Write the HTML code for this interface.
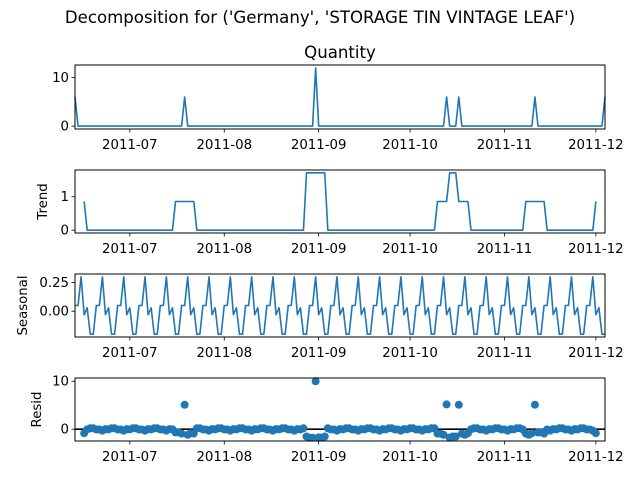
<!DOCTYPE html>
<html><head><meta charset="utf-8"><style>
body{margin:0;background:#fff;}
svg{display:block;font-family:"DejaVu Sans","Liberation Sans",sans-serif;}
</style></head><body>
<svg id="fig" width="640" height="480" viewBox="0 0 640 480">
<text x="320" y="23" text-anchor="middle" font-size="16.6">Decomposition for ('Germany', 'STORAGE TIN VINTAGE LEAF')</text>
<text x="340" y="58" text-anchor="middle" font-size="16.6">Quantity</text>
</svg>
<script>
// Day index 0 = 2011-06-13, 175 daily points to 2011-12-04
const nDays = 175;
const spikeDays = [0, 36, 79, 122, 126, 151, 174];
const spikeValues = [6, 6, 12, 6, 6, 6, 6];
const seasonalPattern = [0.05, 0.05, 0.30, -0.03, 0.03, -0.20, -0.20];
const monthLabels = ['2011-07','2011-08','2011-09','2011-10','2011-11','2011-12'];
const monthTickDays = [18, 49, 80, 110, 141, 171];

const svg = document.getElementById('fig');
const NS = 'http://www.w3.org/2000/svg';
function mk(tag, attrs){const e=document.createElementNS(NS,tag);for(const k in attrs)e.setAttribute(k,attrs[k]);return e;}

const observed = new Array(nDays).fill(0);
spikeDays.forEach((d,i)=>observed[d]=spikeValues[i]);
const trend = observed.map((v,i)=>{ if(i<3||i>nDays-4) return null; let s=0; for(let k=-3;k<=3;k++) s+=observed[i+k]; return s/7; });
const seasonal = observed.map((v,i)=>seasonalPattern[i%7]);
const resid = observed.map((v,i)=>trend[i]===null?null:v-trend[i]-seasonal[i]);

const X0=75, X1=605;
const xs = d => X0 + d*(X1-X0)/(nDays-1);

const panels = [
 {name:'observed', data:observed, top:65, bot:129, ticks:[0,10], fmt:v=>String(v), label:null, lx:0, kind:'line'},
 {name:'trend', data:trend, top:170, bot:233, ticks:[0,1], fmt:v=>String(v), label:'Trend', lx:47, kind:'line'},
 {name:'seasonal', data:seasonal, top:274, bot:337, ticks:[0,0.25], fmt:v=>v.toFixed(2), label:'Seasonal', lx:27, kind:'line'},
 {name:'resid', data:resid, top:378, bot:441, ticks:[0,10], fmt:v=>String(v), label:'Resid', lx:41, kind:'scatter'}
];

panels.forEach(p=>{
  const vals = p.data.filter(v=>v!==null);
  let mn=Math.min(...vals), mx=Math.max(...vals);
  const pad=(mx-mn)*0.05; mn-=pad; mx+=pad;
  if(p.kind==='scatter'){mn-=0.1; mx+=0.1;}
  const ys = v => p.bot - (v-mn)/(mx-mn)*(p.bot-p.top);
  const g = mk('g',{});
  
  
  svg.appendChild(g);
  if(p.kind==='line'){
    let d='', pen=false;
    p.data.forEach((v,i)=>{ if(v===null){pen=false;return;} d+=(pen?'L':'M')+xs(i).toFixed(2)+' '+ys(v).toFixed(2); pen=true; });
    const path = mk('path',{d:d,fill:'none',stroke:'#1f77b4','stroke-width':1.6,'stroke-linejoin':'round'});
    
    
    g.appendChild(path);
  } else {
    const zl = mk('line',{x1:X0,x2:X1,y1:ys(0),y2:ys(0),stroke:'#000','stroke-width':1.6});
    
    
    g.appendChild(zl);
    p.data.forEach((v,i)=>{ if(v===null) return;
      const c = mk('circle',{cx:xs(i),cy:ys(v),r:4,fill:'#1f77b4'});
      
      
      g.appendChild(c);
    });
  }
  const frame = mk('rect',{x:X0,y:p.top,width:X1-X0,height:p.bot-p.top,fill:'none',stroke:'#000','stroke-width':1});
  
  
  g.appendChild(frame);
  p.ticks.forEach(t=>{
    const y=ys(t);
    g.appendChild(mk('line',{x1:X0-3.5,x2:X0,y1:y,y2:y,stroke:'#000','stroke-width':0.8}));
    const tx = mk('text',{x:X0-6,y:y+4.5,'text-anchor':'end','font-size':13.3});
    tx.textContent=p.fmt(t);
    
    
    g.appendChild(tx);
  });
  monthTickDays.forEach((d,i)=>{
    const x=xs(d);
    g.appendChild(mk('line',{x1:x,x2:x,y1:p.bot,y2:p.bot+3.5,stroke:'#000','stroke-width':0.8}));
    const tx = mk('text',{x:x,y:p.bot+20,'text-anchor':'middle','font-size':13.3});
    tx.textContent=monthLabels[i];
    
    
    g.appendChild(tx);
  });
  if(p.label){
    const cy=(p.top+p.bot)/2;
    const lb = mk('text',{x:0,y:0,'text-anchor':'middle','font-size':13.3,transform:`translate(${p.lx} ${cy}) rotate(-90)`});
    lb.textContent=p.label;
    
    
    g.appendChild(lb);
  }
});
</script>
</body></html>
